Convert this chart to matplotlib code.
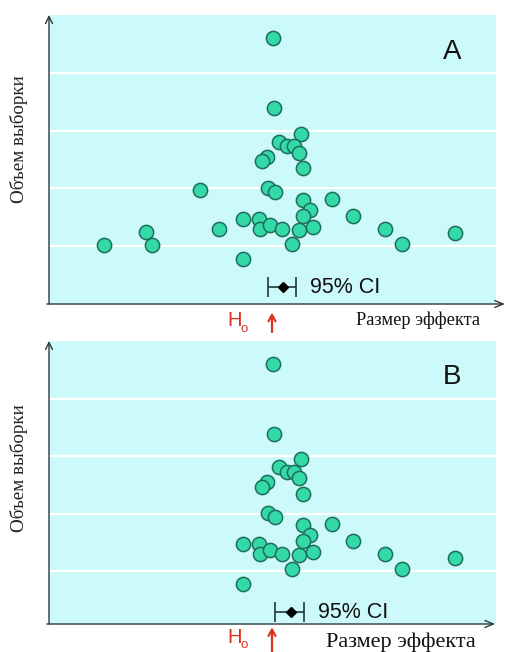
import matplotlib
matplotlib.use("Agg")
import matplotlib.pyplot as plt
from matplotlib import transforms

# Effect size (x) and sample size (y) for each study
effect_a = [0.01, 0.02, 0.29, 0.07, 0.15, 0.22, 0.27, -0.05, -0.10, 0.31,
            -0.72, -0.04, 0.03, 0.31, 0.60, 0.38, 0.31, 0.81, -0.29, -0.13,
            -1.26, -0.53, -0.12, -0.02, 0.10, 0.27, 0.41, 1.13, 1.83, -1.68,
            -1.20, 0.20, 1.30, -0.29]
size_a = [91.9, 67.8, 58.9, 56.2, 54.5, 54.5, 52.2, 51.0, 49.4, 46.9,
          39.3, 40.2, 38.7, 36.0, 36.4, 32.4, 30.5, 30.6, 29.5, 29.5,
          24.8, 25.9, 25.9, 27.2, 26.0, 25.6, 26.8, 26.0, 24.4, 20.5,
          20.3, 20.6, 20.6, 15.4]

# Panel B: the small studies with negative effects are missing
missing_b = [10, 20, 21, 29, 30]
effect_b = [e for i, e in enumerate(effect_a) if i not in missing_b]
size_b = [s for i, s in enumerate(size_a) if i not in missing_b]

# Pooled estimate and its 95% CI: (low, mean, high, y position)
ci_a = [-0.04, 0.11, 0.24, 5.75]
ci_b = [0.03, 0.19, 0.32, 5.6]

grid_levels = [20, 40, 60, 80]
panel_labels = ["A", "B"]
ylabel = "Объем выборки"
xlabel = "Размер эффекта"
ci_text = "95% CI"

BG = "#ccf9f9"
DOT = "#33d9a6"
DOT_EDGE = "#1d6e5c"
AXIS = "#2a3a3a"
RED = "#d9331f"

W, H = 507, 652
fig = plt.figure(figsize=(W / 100, H / 100), dpi=100)
fig.patch.set_facecolor("white")


def px_axes(left, top, right, bottom):
    return fig.add_axes([left / W, 1 - bottom / H, (right - left) / W, (bottom - top) / H])


def draw_panel(ax, xs, ys, ci, label, ylims, ylab_y, xlab_pos, xlab_size,
               h0_tip, h0_base, h0_text_y, sub_drop, x_arrow_end):
    ax.set_facecolor(BG)
    ax.set_xlim(-2.23, 2.24)
    ax.set_ylim(*ylims)
    for g in grid_levels:
        ax.axhline(g, color="white", lw=1.6, zorder=1)
    for s in ax.spines.values():
        s.set_visible(False)
    ax.set_xticks([])
    ax.set_yticks([])

    ax.scatter(xs, ys, s=105, color=DOT, edgecolor=DOT_EDGE, linewidth=1.1, zorder=3)

    # confidence interval of the pooled effect
    lo, mid, hi, yc = ci
    ax.errorbar([mid], [yc], xerr=[[mid - lo], [hi - mid]], fmt="D", color="black",
                ms=5.5, mfc="black", mec="black", ecolor="#203838", elinewidth=1.2,
                capsize=7, capthick=1.2, zorder=4)
    ax.annotate(ci_text, xy=(hi, yc), xytext=(10, 0), textcoords="offset points",
                va="center", ha="left", fontsize=15.5, family="Liberation Sans", color="#111111")

    # axes with arrow heads
    ax.annotate("", xy=(0, 1.0), xytext=(0, 0), xycoords="axes fraction",
                arrowprops=dict(arrowstyle="->,head_length=0.5,head_width=0.25",
                                color=AXIS, lw=1.0, shrinkA=0, shrinkB=0), annotation_clip=False)
    ax.annotate("", xy=(x_arrow_end, 0), xytext=(-0.005, 0), xycoords="axes fraction",
                arrowprops=dict(arrowstyle="->,head_length=0.6,head_width=0.25",
                                color=AXIS, lw=1.0, shrinkA=0, shrinkB=0), annotation_clip=False)

    ax.text(0.9016, 0.872, label, transform=ax.transAxes, ha="center", va="center",
            fontsize=20, family="Liberation Sans", color="#111111")

    ax.set_ylabel(ylabel, fontsize=13.7, family="Liberation Serif", color="#222222")
    ax.yaxis.set_label_coords(-0.046, ylab_y)

    ax.text(xlab_pos[0], xlab_pos[1], xlabel, transform=ax.transAxes, ha="right",
            va="baseline", fontsize=xlab_size, family="Liberation Serif", color="#111111")

    # null hypothesis marker at zero effect
    tr = transforms.blended_transform_factory(ax.transData, ax.transAxes)
    ax.annotate("", xy=(0, h0_tip), xytext=(0, h0_base), xycoords=tr, textcoords=tr,
                arrowprops=dict(arrowstyle="->,head_length=0.45,head_width=0.25",
                                color=RED, lw=1.6, shrinkA=0, shrinkB=0), annotation_clip=False)
    ax.text(-0.45, h0_text_y, "H", transform=tr, ha="left", va="baseline",
            fontsize=14.5, family="Liberation Sans", color=RED)
    ax.text(-0.315, h0_text_y - sub_drop, "o", transform=tr, ha="left", va="baseline",
            fontsize=9.5, family="Liberation Sans", color=RED)


ax_a = px_axes(49, 15, 496, 304)
draw_panel(ax_a, effect_a, size_a, ci_a, panel_labels[0], (0, 100), 0.571,
           (0.965, -0.072), 13.2, -0.03, -0.097, -0.075, 0.022, 1.02)

ax_b = px_axes(49, 341, 496, 624)
draw_panel(ax_b, effect_b, size_b, ci_b, panel_labels[1], (1.6, 100), 0.55,
           (0.955, -0.08), 16, -0.012, -0.1, -0.068, 0.016, 0.998)

fig.savefig("out.png", dpi=100, facecolor="white")
